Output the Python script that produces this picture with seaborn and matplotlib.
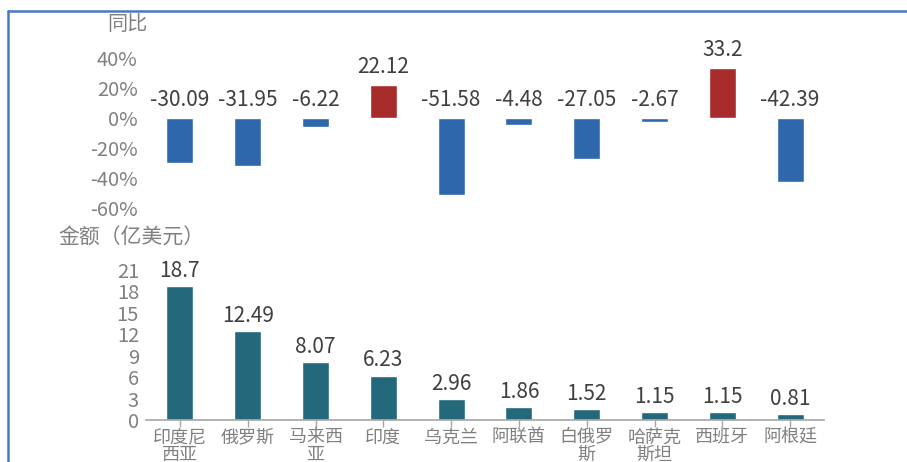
import matplotlib
matplotlib.use("Agg")
import matplotlib.pyplot as plt
from matplotlib.lines import Line2D
import seaborn as sns
import pandas as pd

# Country labels (wrapped as shown on the axis)
countries = ["印度尼\n西亚", "俄罗斯", "马来西\n亚", "印度", "乌克兰",
             "阿联酋", "白俄罗\n斯", "哈萨克\n斯坦", "西班牙", "阿根廷"]
# Year-on-year change (%)
yoy = [-30.09, -31.95, -6.22, 22.12, -51.58, -4.48, -27.05, -2.67, 33.2, -42.39]
yoy_labels = ["-30.09", "-31.95", "-6.22", "22.12", "-51.58",
              "-4.48", "-27.05", "-2.67", "33.2", "-42.39"]
# Amount (100 million USD)
amount = [18.7, 12.49, 8.07, 6.23, 2.96, 1.86, 1.52, 1.15, 1.15, 0.81]
amount_labels = ["18.7", "12.49", "8.07", "6.23", "2.96",
                 "1.86", "1.52", "1.15", "1.15", "0.81"]
yoy_ticks = [-60, -40, -20, 0, 20, 40]
amount_ticks = [0, 3, 6, 9, 12, 15, 18, 21]

sns.set_theme(style="white")
plt.rcParams["font.family"] = ["Noto Sans CJK SC", "DejaVu Sans"]

BLUE = "#2F67AD"
RED = "#A82B2B"
TEAL = "#23687B"
TICK_GRAY = "#808080"
LABEL_DARK = "#3F3F3F"

W, H = 907, 462
fig = plt.figure(figsize=(W / 100, H / 100), dpi=100)
fig.patch.set_facecolor("white")

ax_left, ax_width = 146 / W, 678 / W
ax1 = fig.add_axes([ax_left, (H - 208) / H, ax_width, 150 / H])
ax2 = fig.add_axes([ax_left, 42 / H, ax_width, 150 / H])

df = pd.DataFrame({"country": countries, "yoy": yoy, "amount": amount})
df["sign"] = ["up" if v > 0 else "down" for v in yoy]

# Upper panel: year-on-year change
sns.barplot(data=df, x="country", y="yoy", hue="sign",
            palette={"up": RED, "down": BLUE}, dodge=False,
            width=0.4, legend=False, ax=ax1, saturation=1)
ax1.set_ylim(-60, 40)
ax1.set_xlim(-0.5, len(countries) - 0.5)
ax1.set_yticks(yoy_ticks)
ax1.set_yticklabels([f"{t}%" for t in yoy_ticks])
ax1.set_xticks([])
ax1.set_xlabel("")
ax1.set_ylabel("")
for s in ax1.spines.values():
    s.set_visible(False)
ax1.tick_params(axis="y", length=0, pad=6, labelsize=14.5, labelcolor=TICK_GRAY)
for i, (v, lab) in enumerate(zip(yoy, yoy_labels)):
    ax1.annotate(lab, (i, max(v, 0)), xytext=(0, 5), textcoords="offset points",
                 ha="center", va="bottom", fontsize=15, color=LABEL_DARK,
                 annotation_clip=False)

# Lower panel: amount
sns.barplot(data=df, x="country", y="amount", color=TEAL,
            width=0.4, ax=ax2, saturation=1)
ax2.set_ylim(0, 21)
ax2.set_xlim(-0.5, len(countries) - 0.5)
ax2.set_yticks(amount_ticks)
ax2.set_xlabel("")
ax2.set_ylabel("")
for name, s in ax2.spines.items():
    s.set_visible(name == "bottom")
ax2.spines["bottom"].set_color("#A6A6A6")
ax2.spines["bottom"].set_linewidth(1.2)
ax2.tick_params(axis="y", length=0, pad=5, labelsize=14.5, labelcolor=TICK_GRAY)
ax2.tick_params(axis="x", bottom=True, length=5, width=1, color="#A6A6A6",
                pad=1, labelsize=13, labelcolor=TICK_GRAY)
for t in ax2.get_xticklabels():
    t.set_linespacing(0.95)
ax2.bar_label(ax2.containers[0], labels=amount_labels, padding=3,
              fontsize=15, color=LABEL_DARK)

# Panel titles
fig.text(127 / W, 1 - 25 / H, "同比", ha="center", va="center",
         fontsize=14.5, color=TICK_GRAY)
fig.text(58 / W, 1 - 238 / H, "金额（亿美元）", ha="left", va="center",
         fontsize=15, color=TICK_GRAY)

# Frame lines along the top and left edges
frame = "#4A78C8"
fig.add_artist(Line2D([8 / W, 1], [1 - 11 / H, 1 - 11 / H], color=frame,
                      linewidth=1.8, transform=fig.transFigure))
fig.add_artist(Line2D([8 / W, 8 / W], [0, 1 - 11 / H], color=frame,
                      linewidth=1.8, transform=fig.transFigure))

fig.savefig("out.png", dpi=100, facecolor="white")
